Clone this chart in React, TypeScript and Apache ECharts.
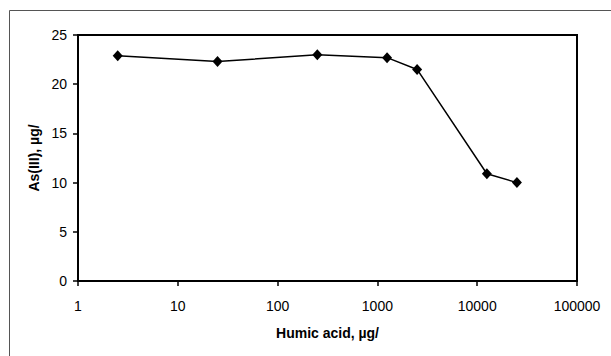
import React, { useEffect, useRef } from "react";
import * as echarts from "echarts";

const humicAcid = [2.5, 25, 250, 1250, 2500, 12500, 25000];
const asIII = [22.9, 22.3, 23.0, 22.7, 21.5, 10.9, 10.0];
const xTicks = [1, 10, 100, 1000, 10000, 100000];
const xTitle = "Humic acid, µg/";
const yTitle = "As(III), µg/";

export default function App() {
  const ref = useRef<HTMLDivElement>(null);
  useEffect(() => {
    if (!ref.current) return;
    const chart = echarts.init(ref.current, undefined, { renderer: "svg" });
    const font = "'Liberation Sans', Arial, sans-serif";
    chart.setOption({
      animation: false,
      backgroundColor: "#ffffff",
      graphic: [
        {
          type: "rect",
          shape: { x: 9.5, y: 10.5, width: 700, height: 500 },
          style: { fill: "none", stroke: "#555555", lineWidth: 1 },
          silent: true,
        },
      ],
      grid: {
        left: 78,
        top: 35,
        right: 34,
        bottom: 75,
        show: true,
        borderColor: "#000000",
        borderWidth: 2,
        backgroundColor: "transparent",
      },
      xAxis: {
        type: "log",
        logBase: 10,
        min: xTicks[0],
        max: xTicks[xTicks.length - 1],
        name: xTitle,
        nameLocation: "middle",
        nameGap: 45,
        nameTextStyle: { fontFamily: font, fontSize: 14, fontWeight: "bold", color: "#000" },
        axisLine: { show: true, lineStyle: { color: "#000", width: 2 } },
        axisTick: { show: true, inside: false, length: 5, lineStyle: { color: "#000", width: 1.5 } },
        minorTick: { show: false },
        splitLine: { show: false },
        axisLabel: {
          margin: 18,
          fontFamily: font,
          fontSize: 14,
          color: "#000",
          formatter: (v: number) => String(Math.round(v)),
        },
      },
      yAxis: {
        type: "value",
        min: 0,
        max: 25,
        interval: 5,
        name: yTitle,
        nameLocation: "middle",
        nameGap: 27,
        nameTextStyle: { fontFamily: font, fontSize: 14, fontWeight: "bold", color: "#000" },
        axisLine: { show: true, lineStyle: { color: "#000", width: 2 } },
        axisTick: { show: true, inside: false, length: 5, lineStyle: { color: "#000", width: 1.5 } },
        splitLine: { show: false },
        axisLabel: { margin: 11, fontFamily: font, fontSize: 14, color: "#000" },
      },
      series: [
        {
          type: "line",
          data: humicAcid.map((x, i) => [x, asIII[i]]),
          symbol: "diamond",
          symbolSize: [10, 11],
          showSymbol: true,
          itemStyle: { color: "#000" },
          lineStyle: { color: "#000", width: 1.5 },
        },
      ],
    });
    return () => chart.dispose();
  }, []);
  return (
    <div
      ref={ref}
      style={{ position: "fixed", left: 0, top: 0, width: 611, height: 356 }}
    />
  );
}
